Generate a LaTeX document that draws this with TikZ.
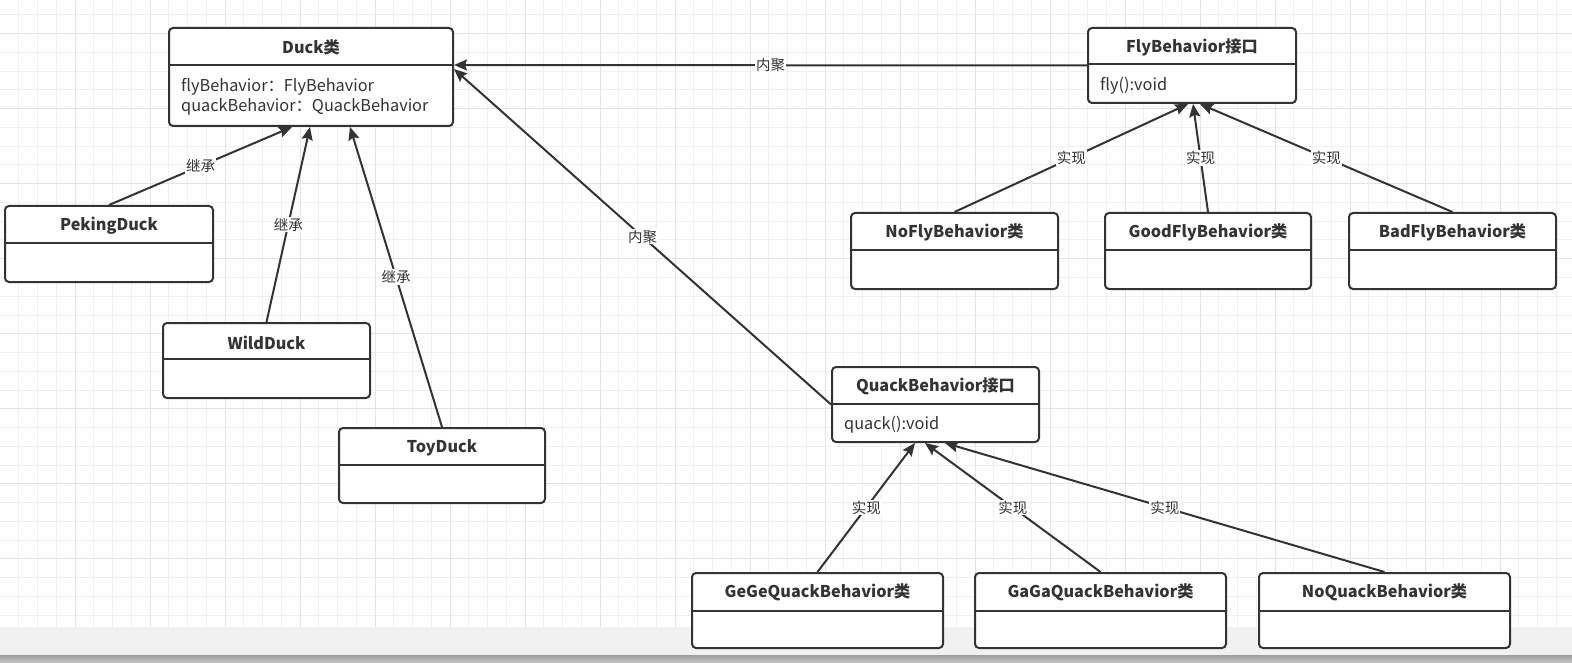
\documentclass[tikz,border=0pt]{standalone}
\usepackage{fontspec}
\setmainfont{Noto Sans CJK SC}
\usetikzlibrary{arrows.meta}
\definecolor{ink}{HTML}{333333}
\definecolor{gridminor}{HTML}{F0F0F0}
\definecolor{gridmajor}{HTML}{E4E4E4}
\definecolor{barlight}{HTML}{F1F1F1}
\tikzset{
  classbox/.style={draw=ink, line width=2pt, rounded corners=4pt, fill=white, inner sep=0pt, anchor=north west},
  divider/.style={draw=ink, line width=2pt},
  titletext/.style={text=ink, font=\fontsize{16.2}{19}\selectfont\bfseries, inner sep=0pt},
  bodytext/.style={text=ink, font=\fontsize{16.3}{19}\selectfont, inner sep=0pt, anchor=west},
  conn/.style={draw=ink, line width=2pt, -{Stealth[length=13pt,width=11pt,inset=2pt]}},
  lbl/.style={midway, fill=white, text=ink, font=\fontsize{14.5}{16}\selectfont, inner sep=1pt}
}
\begin{document}
\begin{tikzpicture}[x=1pt,y=-1pt]
\useasboundingbox (0,0) rectangle (1572,663);
% background
\fill[white] (0,0) rectangle (1572,627);
\foreach \i in {1,...,83} { \draw[gridminor, line width=1pt] (\i*18.75,0) -- (\i*18.75,627); }
\foreach \k in {0,...,32} { \draw[gridminor, line width=1pt] (0,15+\k*18.75) -- (1572,15+\k*18.75); }
\foreach \i in {1,...,20} { \draw[gridmajor, line width=1pt] (\i*75,0) -- (\i*75,627); }
\foreach \k in {0,...,7} { \draw[gridmajor, line width=1pt] (0,33.75+\k*75) -- (1572,33.75+\k*75); }
\fill[barlight] (0,627) rectangle (1572,655);
\shade[top color=black!38, bottom color=black!22] (0,655) rectangle (1572,663);

% boxes
\node[classbox, minimum width=284pt, minimum height=98pt] (duck) at (168,27) {};
\draw[divider] ([yshift=-38pt]duck.north west) -- ([yshift=-38pt]duck.north east);
\node[titletext] (duckT) at ([yshift=-20.5pt]duck.north) {Duck类};
\node[bodytext] (duckA) at ([xshift=13pt,yshift=-59.5pt]duck.north west) {flyBehavior：FlyBehavior};
\node[bodytext] (duckB) at ([xshift=13pt,yshift=-79.5pt]duck.north west) {quackBehavior：QuackBehavior};

\node[classbox, minimum width=208pt, minimum height=75pt] (fly) at (1087,27) {};
\draw[divider] ([yshift=-37pt]fly.north west) -- ([yshift=-37pt]fly.north east);
\node[titletext] (flyT) at ([yshift=-20.5pt]fly.north) {FlyBehavior接口};
\node[bodytext] (flyA) at ([xshift=13pt,yshift=-58.5pt]fly.north west) {fly():void};

\node[classbox, minimum width=208pt, minimum height=76pt] (peking) at (4,205) {};
\draw[divider] ([yshift=-38pt]peking.north west) -- ([yshift=-38pt]peking.north east);
\node[titletext] (pekingT) at ([yshift=-20.5pt]peking.north) {PekingDuck};

\node[classbox, minimum width=207pt, minimum height=75pt] (wild) at (162,322) {};
\draw[divider] ([yshift=-37pt]wild.north west) -- ([yshift=-37pt]wild.north east);
\node[titletext] (wildT) at ([yshift=-20.5pt]wild.north) {WildDuck};

\node[classbox, minimum width=206pt, minimum height=75pt] (toy) at (338,427) {};
\draw[divider] ([yshift=-38pt]toy.north west) -- ([yshift=-38pt]toy.north east);
\node[titletext] (toyT) at ([yshift=-20.5pt]toy.north) {ToyDuck};

\node[classbox, minimum width=207pt, minimum height=76pt] (nofly) at (850,212) {};
\draw[divider] ([yshift=-38pt]nofly.north west) -- ([yshift=-38pt]nofly.north east);
\node[titletext] (noflyT) at ([yshift=-20.5pt]nofly.north) {NoFlyBehavior类};

\node[classbox, minimum width=206pt, minimum height=76pt] (goodfly) at (1104,212) {};
\draw[divider] ([yshift=-38pt]goodfly.north west) -- ([yshift=-38pt]goodfly.north east);
\node[titletext] (goodflyT) at ([yshift=-20.5pt]goodfly.north) {GoodFlyBehavior类};

\node[classbox, minimum width=207pt, minimum height=76pt] (badfly) at (1348,212) {};
\draw[divider] ([yshift=-38pt]badfly.north west) -- ([yshift=-38pt]badfly.north east);
\node[titletext] (badflyT) at ([yshift=-20.5pt]badfly.north) {BadFlyBehavior类};

\node[classbox, minimum width=207pt, minimum height=75pt] (quack) at (831,366) {};
\draw[divider] ([yshift=-38pt]quack.north west) -- ([yshift=-38pt]quack.north east);
\node[titletext] (quackT) at ([yshift=-20.5pt]quack.north) {QuackBehavior接口};
\node[bodytext] (quackA) at ([xshift=13pt,yshift=-58.5pt]quack.north west) {quack():void};

\node[classbox, minimum width=251pt, minimum height=75pt] (gege) at (691,572) {};
\draw[divider] ([yshift=-39pt]gege.north west) -- ([yshift=-39pt]gege.north east);
\node[titletext] (gegeT) at ([yshift=-20.5pt]gege.north) {GeGeQuackBehavior类};

\node[classbox, minimum width=251pt, minimum height=75pt] (gaga) at (974,572) {};
\draw[divider] ([yshift=-39pt]gaga.north west) -- ([yshift=-39pt]gaga.north east);
\node[titletext] (gagaT) at ([yshift=-20.5pt]gaga.north) {GaGaQuackBehavior类};

\node[classbox, minimum width=251pt, minimum height=75pt] (noquack) at (1258,572) {};
\draw[divider] ([yshift=-39pt]noquack.north west) -- ([yshift=-39pt]noquack.north east);
\node[titletext] (noquackT) at ([yshift=-20.5pt]noquack.north) {NoQuackBehavior类};

% connectors
\draw[conn] (fly.west) -- node[lbl]{内聚} ([yshift=-38pt]duck.north east);
\draw[conn] (quack.west) -- node[lbl]{内聚} ([yshift=-42pt]duck.north east);
\draw[conn] (peking.north) -- node[lbl]{继承} ([xshift=124pt]duck.south west);
\draw[conn] (wild.north) -- node[lbl]{继承} ([xshift=142pt]duck.south west);
\draw[conn] (toy.north) -- node[lbl]{继承} ([xshift=182pt]duck.south west);
\draw[conn] (nofly.north) -- node[lbl]{实现} ([xshift=101pt]fly.south west);
\draw[conn] (goodfly.north) -- node[lbl]{实现} ([xshift=106pt]fly.south west);
\draw[conn] (badfly.north) -- node[lbl]{实现} ([xshift=113pt]fly.south west);
\draw[conn] (gege.north) -- node[lbl]{实现} ([xshift=84pt]quack.south west);
\draw[conn] (gaga.north) -- node[lbl]{实现} ([xshift=94pt]quack.south west);
\draw[conn] (noquack.north) -- node[lbl]{实现} ([xshift=114pt]quack.south west);
\end{tikzpicture}
\end{document}
